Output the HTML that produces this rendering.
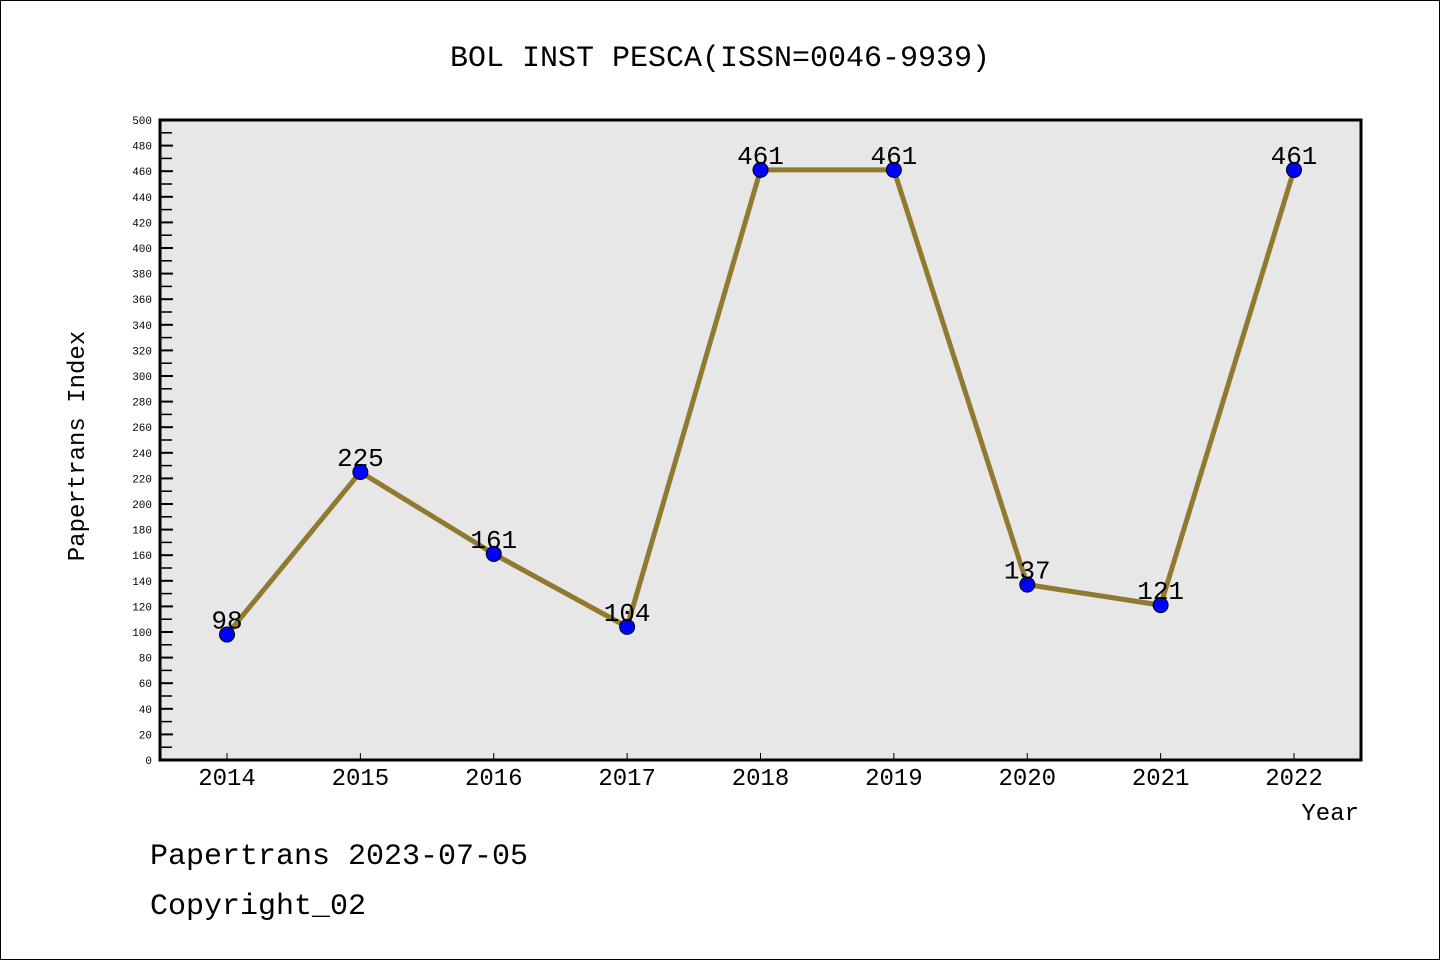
<!DOCTYPE html>
<html><head><meta charset="utf-8"><style>
body{margin:0;background:#fff}
svg text{font-family:"Liberation Mono","DejaVu Sans Mono",monospace}
</style></head><body>
<svg width="1440" height="960" xmlns="http://www.w3.org/2000/svg">
<rect x="0.5" y="0.5" width="1439" height="959" fill="#fff" stroke="#000"/>
<text x="720" y="66" text-anchor="middle" font-size="30">BOL INST PESCA(ISSN=0046-9939)</text>
<rect x="160" y="120" width="1201" height="640" fill="#e7e7e7"/>
<g id="yaxis"></g>
<g id="xaxis"></g>
<g id="series"></g>
<rect x="160" y="120" width="1201" height="640" fill="none" stroke="#000" stroke-width="3"/>
<text transform="translate(84,446) rotate(-90)" text-anchor="middle" font-size="24">Papertrans Index</text>
<text x="1359" y="820" text-anchor="end" font-size="24">Year</text>
<text x="150" y="864" font-size="30">Papertrans 2023-07-05</text>
<text x="150" y="914" font-size="30">Copyright_02</text>
</svg>
<script>
const years = [2014,2015,2016,2017,2018,2019,2020,2021,2022];
const values = [98,225,161,104,461,461,137,121,461];
const yTicks = [0,20,40,60,80,100,120,140,160,180,200,220,240,260,280,300,320,340,360,380,400,420,440,460,480,500];
const NS="http://www.w3.org/2000/svg";
function yS(v){return 760-v*1.28;}
function xS(i){return 227+i*(1294-227)/(years.length-1);}
function mk(tag,attrs,parent,txt){const e=document.createElementNS(NS,tag);for(const k in attrs)e.setAttribute(k,attrs[k]);if(txt!==undefined)e.textContent=txt;parent.appendChild(e);return e;}
const ya=document.getElementById('yaxis'),xa=document.getElementById('xaxis'),sr=document.getElementById('series');
yTicks.forEach(t=>{
 const y=yS(t);
 const l=mk('line',{x1:160,x2:173,y1:y,y2:y,stroke:'#000','stroke-width':2},ya);
 
 
 const tx=mk('text',{x:152,y:y+4,'text-anchor':'end','font-size':11,'font-family':'DejaVu Sans, sans-serif'},ya,String(t));
 
 
 if(t<500){const m=mk('line',{x1:160,x2:172,y1:yS(t+10),y2:yS(t+10),stroke:'#000','stroke-width':1.5},ya);
 
 }
});
years.forEach((yr,i)=>{
 const x=xS(i);
 const l=mk('line',{x1:x,x2:x,y1:753,y2:760,stroke:'#000','stroke-width':1},xa);
 
 
 const tx=mk('text',{x:x,y:785,'text-anchor':'middle','font-size':24,'font-family':'Liberation Sans, sans-serif'},xa,String(yr));
 
 
});
const pts=values.map((v,i)=>xS(i)+','+yS(v)).join(' ');
const pl=mk('polyline',{points:pts,fill:'none',stroke:'#8f7a30','stroke-width':5,'stroke-linejoin':'round'},sr);


values.forEach((v,i)=>{
 const c=mk('circle',{cx:xS(i),cy:yS(v),r:7.5,fill:'#0000ff',stroke:'#000','stroke-width':1},sr);
 
 
 const t=mk('text',{x:xS(i),y:yS(v)-6,'text-anchor':'middle','font-size':26,'font-family':'Liberation Sans, sans-serif'},sr,String(v));
 
 
});
</script>
</body></html>
